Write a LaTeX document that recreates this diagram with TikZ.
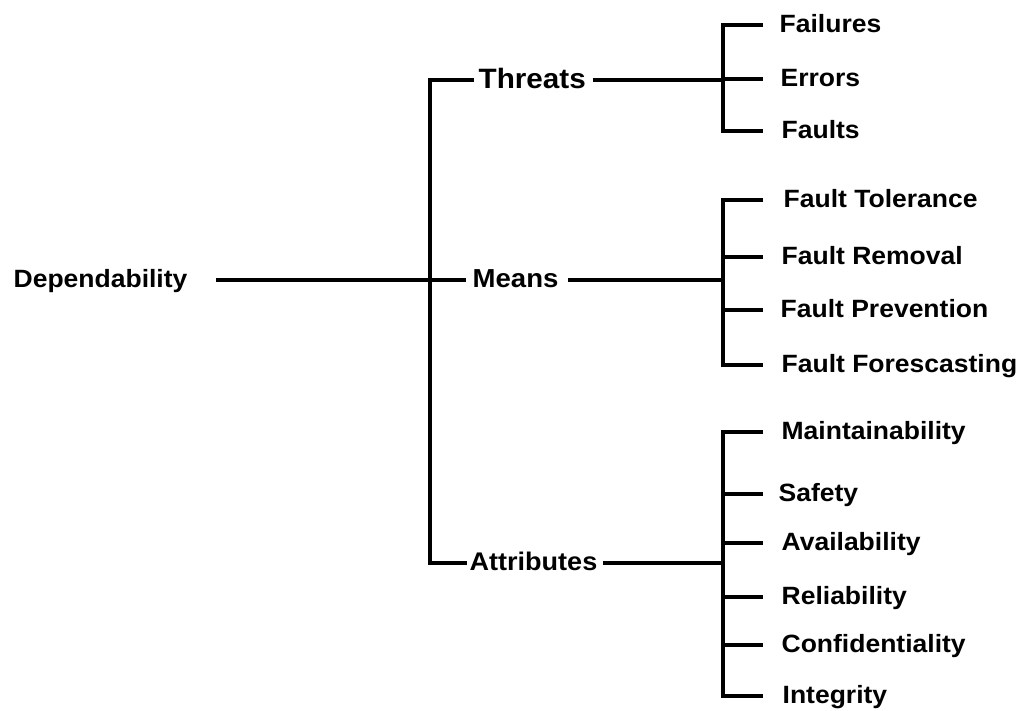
\documentclass[tikz,border=0pt]{standalone}
\usepackage{fontspec}
\setmainfont{Liberation Sans}[FakeStretch=1.06]
\begin{document}
\begin{tikzpicture}[x=1pt,y=-1pt,
  line width=3.3pt, line join=miter, line cap=butt,
  lbl/.style={anchor=west, inner sep=0pt, font=\bfseries\fontsize{#1}{#1}\selectfont,
              text height={0.72*#1pt}, text depth=3pt},
  lbl/.default=25,
  conn/.style={draw=black}]
\useasboundingbox (0,0) rectangle (1021,711);

% root and first level
\node[lbl] (dep) at (12,280) {Dependability};
\node[lbl=28] (threats) at (477,80) {Threats};
\node[lbl=26] (means) at (471,280) {Means};
\node[lbl=25.5] (attr) at (468,563) {Attributes};

% vertical trunk of the first level
\coordinate (trunk) at (430,0);
\draw[conn] ([xshift=-3pt]threats.west) -- (threats.west -| trunk)
            -- (attr.west -| trunk) -- ([xshift=-1pt]attr.west);
\draw[conn] ([xshift=27pt]dep.east) -- ([xshift=-5pt]means.west);

% bracket columns on the right
\coordinate (tb) at (723,0);
\coordinate (te) at (763,0);

% threats
\node[lbl] (fail) at (778,25) {Failures};
\node[lbl] (err) at (779,79) {Errors};
\node[lbl] (faults) at (780,131) {Faults};
\draw[conn] ([xshift=5pt]threats.east) -- (threats.east -| tb);
\draw[conn] (fail.west -| te) -- (fail.west -| tb) -- (faults.west -| tb) -- (faults.west -| te);
\draw[conn] (err.west -| tb) -- (err.west -| te);

% means
\node[lbl] (ft) at (782,200) {Fault Tolerance};
\node[lbl] (fr) at (780,257) {Fault Removal};
\node[lbl] (fp) at (779,310) {Fault Prevention};
\node[lbl] (ff) at (780,365) {Fault Forescasting};
\draw[conn] ([xshift=8pt]means.east) -- (means.east -| tb);
\draw[conn] (ft.west -| te) -- (ft.west -| tb) -- (ff.west -| tb) -- (ff.west -| te);
\foreach \n in {fr,fp} \draw[conn] (\n.west -| tb) -- (\n.west -| te);

% attributes
\node[lbl] (mai) at (780,432) {Maintainability};
\node[lbl] (saf) at (777,494) {Safety};
\node[lbl] (ava) at (780,543) {Availability};
\node[lbl] (rel) at (780,597) {Reliability};
\node[lbl] (con) at (780,645) {Confidentiality};
\node[lbl] (int) at (781,696) {Integrity};
\draw[conn] ([xshift=4pt]attr.east) -- (attr.east -| tb);
\draw[conn] (mai.west -| te) -- (mai.west -| tb) -- (int.west -| tb) -- (int.west -| te);
\foreach \n in {saf,ava,rel,con} \draw[conn] (\n.west -| tb) -- (\n.west -| te);
\end{tikzpicture}
\end{document}
